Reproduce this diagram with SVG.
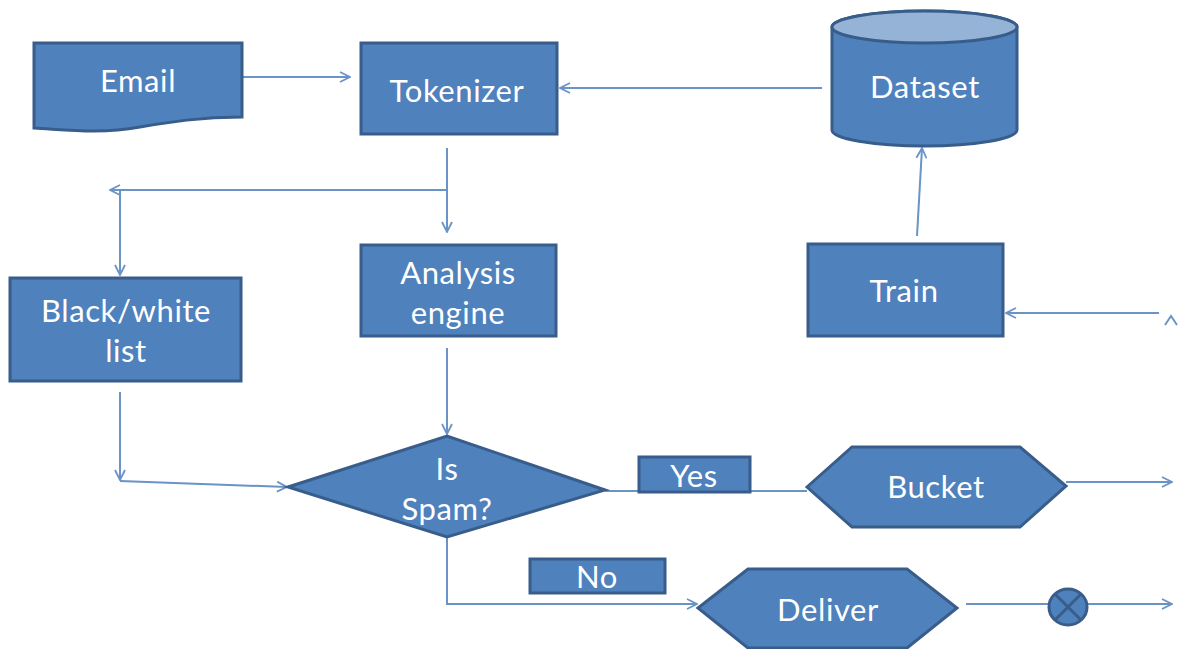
<svg xmlns="http://www.w3.org/2000/svg" width="1181" height="649" viewBox="0 0 1181 649">
<style>
.n{fill:#4F81BD;stroke:#385D8A;stroke-width:3}
.t{fill:#fff;font-family:Lato,"Open Sans",sans-serif;font-size:31px;letter-spacing:0.6px;text-anchor:middle;dominant-baseline:central}
.c{fill:none;stroke:#6A93C6;stroke-width:2}
</style>
<defs>
<marker id="a" viewBox="0 0 12 12" refX="11" refY="6" markerWidth="12" markerHeight="12" markerUnits="userSpaceOnUse" orient="auto">
<path d="M1,1 L11,6 L1,11" fill="none" stroke="#6A93C6" stroke-width="1.8"/>
</marker>
</defs>
<rect width="1181" height="649" fill="#fff"/>
<g id="connectors">
<path class="c" d="M243,77 H350" marker-end="url(#a)"/>
<path class="c" d="M822,88 H560" marker-end="url(#a)"/>
<path class="c" d="M917,236 L922,148" marker-end="url(#a)"/>
<path class="c" d="M1159,313 H1006" marker-end="url(#a)"/>
<path class="c" d="M1165,325 L1171,316 L1177,325"/>
<path class="c" d="M447,148 V232" marker-end="url(#a)"/>
<path class="c" d="M447,190 H110" marker-end="url(#a)"/>
<path class="c" d="M120,190 V275" marker-end="url(#a)"/>
<path class="c" d="M120,392 V480" marker-end="url(#a)"/>
<path class="c" d="M120,481 L287,487" marker-end="url(#a)"/>
<path class="c" d="M447,348 V434" marker-end="url(#a)"/>
<path class="c" d="M605,491 H807"/>
<path class="c" d="M1066,482 H1172" marker-end="url(#a)"/>
<path class="c" d="M447,538 V604 H697" marker-end="url(#a)"/>
<path class="c" d="M966,604 H1172" marker-end="url(#a)"/>
</g>
<g id="email">
<path class="n" d="M34,43 H242 V117 C200,117 170,122 140,127 C100,134 70,130 34,128 Z"/>
<text class="t" x="138" y="80">Email</text>
</g>
<g id="tokenizer">
<rect class="n" x="361" y="43" width="196" height="91"/>
<text class="t" x="457" y="90">Tokenizer</text>
</g>
<g id="dataset">
<path class="n" d="M832,27 V130 A92.5,16 0 0 0 1017,130 V27 A92.5,16 0 0 0 832,27 Z"/>
<ellipse cx="924.5" cy="27" rx="92.5" ry="16" fill="#95B3D7" stroke="#385D8A" stroke-width="3"/>
<text class="t" x="925" y="86">Dataset</text>
</g>
<g id="train">
<rect class="n" x="808" y="244" width="195" height="92"/>
<text class="t" x="904" y="290">Train</text>
</g>
<g id="analysis">
<rect class="n" x="361" y="245" width="195" height="91"/>
<text class="t" x="458" y="272">Analysis</text>
<text class="t" x="458" y="312">engine</text>
</g>
<g id="blackwhite">
<rect class="n" x="10" y="278" width="231" height="103"/>
<text class="t" x="126" y="310">Black/white</text>
<text class="t" x="126" y="350">list</text>
</g>
<g id="isspam">
<path class="n" d="M288,487 L447,436 L605,490 L447,537 Z"/>
<text class="t" x="447" y="468">Is</text>
<text class="t" x="447" y="508">Spam?</text>
</g>
<g id="yes">
<rect class="n" x="639" y="457" width="111" height="35"/>
<text class="t" x="694" y="475">Yes</text>
</g>
<g id="bucket">
<path class="n" d="M807,487 L852,447 L1020,447 L1066,486 L1020,527 L852,527 Z"/>
<text class="t" x="936" y="486">Bucket</text>
</g>
<g id="no">
<rect class="n" x="530" y="559" width="135" height="34"/>
<text class="t" x="597" y="576">No</text>
</g>
<g id="deliver">
<path class="n" d="M698,608 L748,569 L907,569 L957,608 L907,648 L748,648 Z"/>
<text class="t" x="828" y="609">Deliver</text>
</g>
<g id="terminator">
<ellipse class="n" cx="1068" cy="607" rx="19" ry="18"/>
<path d="M1055,594 L1081,620 M1081,594 L1055,620" stroke="#385D8A" stroke-width="3"/>
</g>
</svg>
